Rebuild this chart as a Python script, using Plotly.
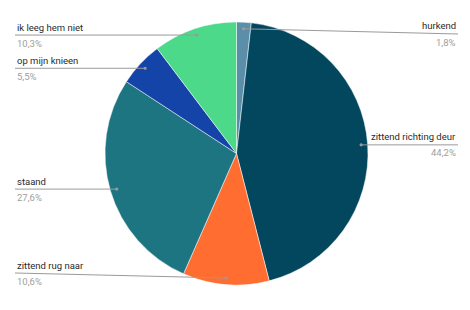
import math
import plotly.graph_objects as go

labels = ["hurkend", "zittend richting deur", "zittend rug naar", "staand", "op mijn knieen", "ik leeg hem niet"]
values = [1.8, 44.2, 10.6, 27.6, 5.5, 10.3]
colors = ["#5B8FA9", "#02475E", "#FF6D31", "#1E7582", "#1444A8", "#4CD98A"]

W, H = 470, 310
CX, CY, R = 236.5, 153.5, 131.5
DOT_R = 0.95 * R
LEFT_X, RIGHT_X = 15, 458
Y_MIN, Y_MAX = 34, 273

def px(x):
    return x / W

def py(y):
    return 1 - y / H

fig = go.Figure(go.Pie(
    labels=labels, values=values, sort=False, direction="clockwise", rotation=0,
    marker=dict(colors=colors, line=dict(color="white", width=0.5)),
    textinfo="none", hoverinfo="label+percent", showlegend=False,
    domain=dict(x=[px(CX - R), px(CX + R)], y=[py(CY + R), py(CY - R)]),
))

total = sum(values)
shapes, annotations = [], []
cum = 0.0
for lab, v in zip(labels, values):
    mid = (cum + v / 2) / total * 2 * math.pi
    cum += v
    dx, dy = CX + DOT_R * math.sin(mid), CY - DOT_R * math.cos(mid)
    ly = min(max(dy, Y_MIN), Y_MAX)
    right = math.sin(mid) > 0
    ex = RIGHT_X if right else LEFT_X
    shapes.append(dict(type="line", xref="paper", yref="paper",
                       x0=px(dx), y0=py(dy), x1=px(ex), y1=py(ly),
                       line=dict(color="#9a9a9a", width=1)))
    shapes.append(dict(type="circle", xref="paper", yref="paper",
                       x0=px(dx - 1.6), x1=px(dx + 1.6), y0=py(dy + 1.6), y1=py(dy - 1.6),
                       fillcolor="#9a9a9a", line=dict(width=0)))
    anchor = "right" if right else "left"
    annotations.append(dict(xref="paper", yref="paper", x=px(ex), y=py(ly - 0.5),
                            text=lab, showarrow=False, xanchor=anchor, yanchor="bottom",
                            font=dict(family="Roboto", size=9.5, color="#2a2a2a")))
    pct = f"{v:.1f}".replace(".", ",") + "%"
    annotations.append(dict(xref="paper", yref="paper", x=px(ex), y=py(ly + 0.5),
                            text=pct, showarrow=False, xanchor=anchor, yanchor="top",
                            font=dict(family="Roboto", size=9.5, color="#a0a0a0")))

fig.update_layout(width=W, height=H, autosize=False,
                  margin=dict(l=0, r=0, t=0, b=0),
                  paper_bgcolor="white", plot_bgcolor="white",
                  shapes=shapes, annotations=annotations)

fig.write_html("out.html")
